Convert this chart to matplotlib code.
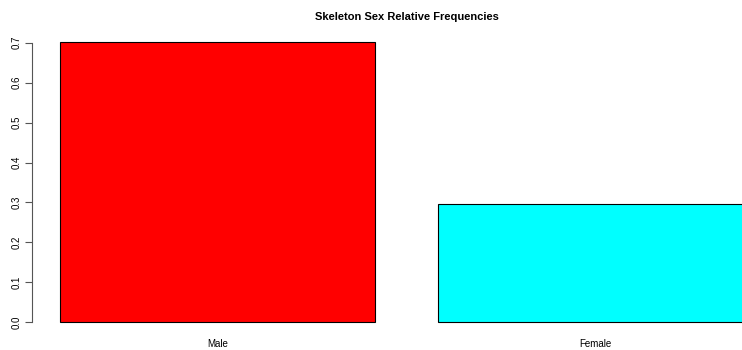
import matplotlib
matplotlib.use("Agg")
import matplotlib.pyplot as plt

categories = ["Male", "Female"]
freqs = [0.703, 0.297]
colors = ["#FF0000", "#00FFFF"]
yticks = [0.0, 0.1, 0.2, 0.3, 0.4, 0.5, 0.6, 0.7]

plt.rcParams['font.family'] = ['Liberation Sans', 'DejaVu Sans']

W, H = 742, 350
fig = plt.figure(figsize=(W / 100, H / 100), dpi=100)

# plot region in pixels (extends past the right edge, as in the original device)
left, right, top, bottom = 32.3, 780.7, 30.3, 333.5
ax = fig.add_axes([left / W, (H - bottom) / H, (right - left) / W, (bottom - top) / H])

# barplot layout: width 1, space 0.2
centers = [0.7, 1.9]
ax.bar(centers, freqs, width=1.0, color=colors, edgecolor="black", linewidth=0.8)
ax.set_xlim(0.112, 2.488)
ax.set_ylim(-0.0281, 0.7311)

for s in ["top", "right", "bottom"]:
    ax.spines[s].set_visible(False)
ax.spines["left"].set_bounds(0, 0.7)
ax.spines["left"].set_color("#555555")
ax.spines["left"].set_linewidth(0.8)

ax.set_yticks(yticks)
ax.set_yticklabels([f"{v:.1f}" for v in yticks], rotation=90, va="center", fontsize=7)
ax.tick_params(axis="y", length=5, width=0.8, color="#555555", pad=3)

ax.set_xticks(centers)
ax.set_xticklabels(categories, fontsize=7)
ax.tick_params(axis="x", length=0, pad=4)

# title centred over the full plot region
fig.text((left + right) / 2 / W, 1 - 17 / H, "Skeleton Sex Relative Frequencies",
         ha="center", va="center", fontsize=8, fontweight="bold")

fig.savefig("out.png", dpi=100)
